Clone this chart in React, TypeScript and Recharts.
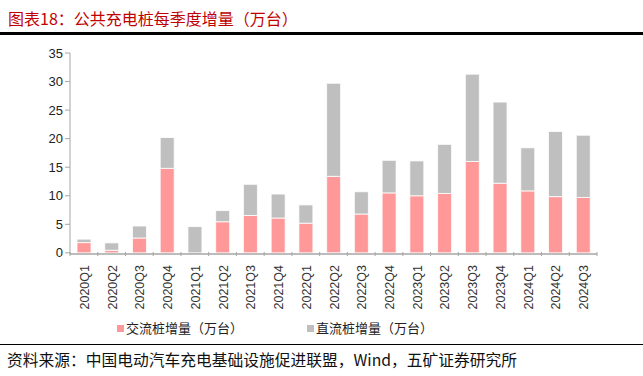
import { Bar, BarChart, XAxis, YAxis } from "recharts";

const quarters = [
  "2020Q1", "2020Q2", "2020Q3", "2020Q4",
  "2021Q1", "2021Q2", "2021Q3", "2021Q4",
  "2022Q1", "2022Q2", "2022Q3", "2022Q4",
  "2023Q1", "2023Q2", "2023Q3", "2023Q4",
  "2024Q1", "2024Q2", "2024Q3",
];
const acPiles = [
  1.8, 0.45, 2.6, 14.8,
  -0.2, 5.45, 6.55, 6.1,
  5.2, 13.4, 6.8, 10.5,
  10.0, 10.4, 16.0, 12.2,
  10.85, 9.85, 9.7,
];
const dcPiles = [
  0.6, 1.3, 2.1, 5.4,
  4.6, 1.95, 5.45, 4.2,
  3.2, 16.3, 3.9, 5.7,
  6.1, 8.6, 15.3, 14.2,
  7.55, 11.4, 10.9,
];
const yTicks = [0, 5, 10, 15, 20, 25, 30, 35];

const acName = "交流桩增量（万台）";
const dcName = "直流桩增量（万台）";

const data = quarters.map((q, i) => ({ q, ac: acPiles[i], dc: dcPiles[i] }));

const FONT = '"Liberation Sans", Arial, "Noto Sans CJK SC", sans-serif';
const AXIS = "#a6a6a6";

function QuarterTick(props: any) {
  const { x, y, payload, index } = props;
  const half = payload.offset ?? 13.9;
  return (
    <g>
      <line x1={x - half} x2={x - half} y1={y - 6} y2={y - 10} stroke={AXIS} />
      {index === quarters.length - 1 && (
        <line x1={x + half} x2={x + half} y1={y - 6} y2={y - 10} stroke={AXIS} />
      )}
      <text
        x={0}
        y={0}
        transform={`translate(${x + 1},${y + 3}) rotate(-90)`}
        textAnchor="end"
        dominantBaseline="central"
        fontSize={12.5}
        fill="#333"
        fontFamily={FONT}
      >
        {payload.value}
      </text>
    </g>
  );
}

export default function App() {
  return (
    <div
      style={{
        position: "absolute",
        left: 0,
        top: 0,
        width: 643,
        height: 376,
        background: "#fff",
        fontFamily: FONT,
      }}
    >
      <div
        style={{
          position: "absolute",
          left: 8,
          top: 7,
          fontSize: 16,
          color: "#c00000",
          fontFamily: '"Noto Sans CJK SC", sans-serif',
          lineHeight: "22px",
        }}
      >
        图表18：公共充电桩每季度增量（万台）
      </div>
      <div style={{ position: "absolute", left: 0, top: 32, width: 643, height: 2.5, background: "#000" }} />

      <div style={{ position: "absolute", left: 0, top: 0 }}>
        <BarChart
          width={643}
          height={376}
          data={data}
          stackOffset="sign"
          barSize={14}
          margin={{ top: 53, right: 46, left: 0, bottom: 62 }}
        >
          <YAxis
            width={70}
            domain={[0, 35]}
            ticks={yTicks}
            interval={0}
            axisLine={{ stroke: AXIS }}
            tickLine={{ stroke: AXIS }}
            tickSize={5}
            tick={{ fontSize: 13, fill: "#222", fontFamily: FONT }}
          />
          <XAxis
            dataKey="q"
            height={60}
            interval={0}
            axisLine={{ stroke: AXIS, strokeWidth: 1.5 }}
            tickLine={false}
            tick={<QuarterTick />}
          />
          <Bar dataKey="ac" name={acName} stackId="s" fill="#ff9999" stroke="#ffffff" strokeWidth={0.8} isAnimationActive={false} />
          <Bar dataKey="dc" name={dcName} stackId="s" fill="#bfbfbf" stroke="#ffffff" strokeWidth={0.8} isAnimationActive={false} />
        </BarChart>
      </div>

      <div
        style={{
          position: "absolute",
          top: 319,
          left: 117,
          fontSize: 13,
          fontFamily: '"Noto Sans CJK SC", sans-serif',
          color: "#222",
          lineHeight: "18px",
          display: "flex",
          alignItems: "center",
        }}
      >
        <span style={{ width: 7, height: 7, background: "#ff9999", marginRight: 2 }} />
        <span>{acName}</span>
        <span style={{ width: 7, height: 7, background: "#bfbfbf", marginLeft: 64, marginRight: 2 }} />
        <span>{dcName}</span>
      </div>

      <div style={{ position: "absolute", left: 0, top: 343.5, width: 643, height: 1.5, background: "#000" }} />
      <div
        style={{
          position: "absolute",
          left: 7,
          top: 349,
          fontSize: 15.75,
          color: "#111",
          fontFamily: '"Noto Sans CJK SC", sans-serif',
          lineHeight: "22px",
          whiteSpace: "nowrap",
        }}
      >
        资料来源：中国电动汽车充电基础设施促进联盟，Wind，五矿证券研究所
      </div>
    </div>
  );
}
